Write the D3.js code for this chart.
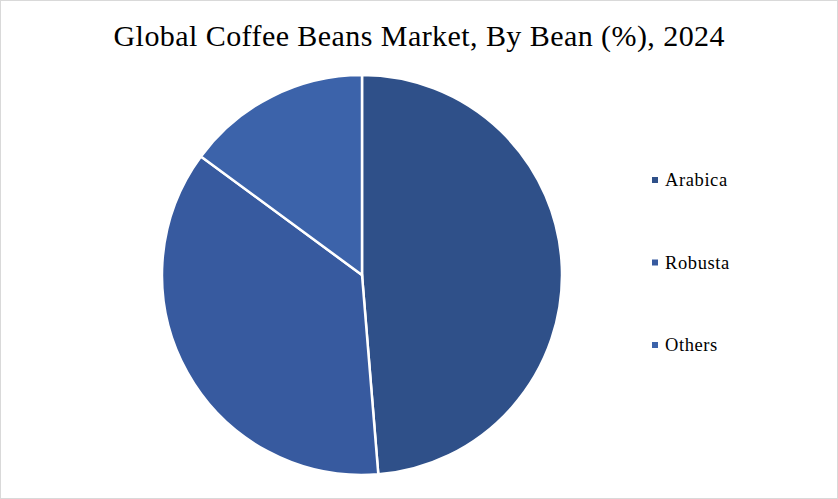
<!DOCTYPE html>
<html><head><meta charset="utf-8">
<script src="https://cdn.jsdelivr.net/npm/d3@7"></script>
<style>body{margin:0;background:#fff}</style>
</head><body><div id="chart"></div>
<script>
const categories = ["Arabica", "Robusta", "Others"];
const shares = [48.7, 36.4, 14.9];
const colors = ["#2f5089", "#375a9f", "#3c63aa"];

const width = 838, height = 499;
const svg = d3.select("#chart").append("svg").attr("width", width).attr("height", height);
svg.append("rect").attr("x", 0.5).attr("y", 0.5).attr("width", width - 1).attr("height", height - 1)
    .attr("fill", "#fff").attr("stroke", "#d9d9d9");

svg.append("text").attr("x", 419).attr("y", 46).attr("text-anchor", "middle")
    .attr("font-family", "Liberation Serif, serif").attr("font-size", 30).attr("fill", "#000")
    .attr("textLength", 611).attr("lengthAdjust", "spacing")
    .text("Global Coffee Beans Market, By Bean (%), 2024");

const pie = d3.pie().sort(null)(shares);
const arc = d3.arc().innerRadius(0).outerRadius(200);
const g = svg.append("g").attr("transform", "translate(362,275)");
g.selectAll("path").data(pie).enter().append("path")
    .attr("d", arc).attr("fill", (d, i) => colors[i])
    .attr("stroke", "#fff").attr("stroke-width", 2.5);

const y = d3.scalePoint().domain(categories).range([180, 345]);
const leg = svg.selectAll("g.leg").data(categories).enter().append("g").attr("class", "leg")
    .attr("transform", d => `translate(652,${y(d)})`);
leg.append("rect").attr("x", 0).attr("y", -3).attr("width", 6).attr("height", 6)
    .attr("fill", (d, i) => colors[i]);
leg.append("text").attr("x", 13).attr("y", 6)
    .attr("font-family", "Liberation Serif, serif").attr("font-size", 18.5).attr("fill", "#000")
    .attr("letter-spacing", 0.6)
    .text(d => d);
</script></body></html>
